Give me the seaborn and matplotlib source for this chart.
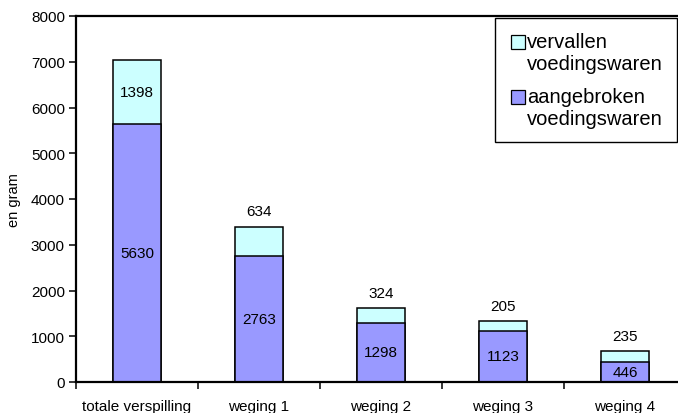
import matplotlib
matplotlib.use("Agg")
import matplotlib.pyplot as plt
from matplotlib.patches import Patch, Rectangle
from matplotlib.legend_handler import HandlerBase
from matplotlib.ticker import FixedLocator
import seaborn as sns
import pandas as pd

categories = ["totale verspilling", "weging 1", "weging 2", "weging 3", "weging 4"]
aangebroken = [5630, 2763, 1298, 1123, 446]
vervallen = [1398, 634, 324, 205, 235]

color_aangebroken = "#9999FF"
color_vervallen = "#CCFFFF"

sns.set_theme(style="white")
plt.rcParams["font.family"] = ["Liberation Sans", "DejaVu Sans"]
for key in ["text.color", "axes.labelcolor", "xtick.color", "ytick.color"]:
    plt.rcParams[key] = "black"

df = pd.DataFrame({
    "categorie": categories,
    "aangebroken": aangebroken,
    "vervallen": vervallen,
})
df["totaal"] = df["aangebroken"] + df["vervallen"]

fig = plt.figure(figsize=(6.78, 4.14), dpi=100)
ax = fig.add_axes([76 / 678, 1 - 383 / 414, 610 / 678, 366 / 414])

bar_kw = dict(width=0.4, edgecolor="black", linewidth=1.1, saturation=1, ax=ax)
sns.barplot(data=df, x="categorie", y="totaal", color=color_vervallen, **bar_kw)
sns.barplot(data=df, x="categorie", y="aangebroken", color=color_aangebroken, **bar_kw)

FS = 11
ax.set_ylim(0, 8000)
ax.set_xlim(-0.5, len(categories) - 0.5)
ax.set_yticks(range(0, 8001, 1000))
ax.tick_params(axis="y", labelsize=FS, length=5, width=1.1, direction="out",
               left=True, pad=3)
ax.tick_params(axis="x", which="major", labelsize=FS, length=0, pad=12)
ax.xaxis.set_minor_locator(FixedLocator([i - 0.5 for i in range(len(categories) + 1)]))
ax.tick_params(axis="x", which="minor", length=5, width=1.1, bottom=True, direction="out")
ax.set_xlabel("")
ax.set_ylabel("en gram", fontsize=10.5, labelpad=7)

for side in ["left", "top", "bottom"]:
    ax.spines[side].set_visible(True)
    ax.spines[side].set_color("black")
    ax.spines[side].set_linewidth(1.6)
ax.spines["right"].set_visible(False)

# value labels: lower segment centred, upper segment centred for the total bar, above the others
for i, (a, v) in enumerate(zip(aangebroken, vervallen)):
    ax.text(i, a / 2, str(a), ha="center", va="center", fontsize=FS)
    if i == 0:
        ax.text(i, a + v / 2, str(v), ha="center", va="center", fontsize=FS)
    else:
        ax.annotate(str(v), xy=(i, a + v), xytext=(0, 11), textcoords="offset points",
                    ha="center", va="center", fontsize=FS)


class FirstLineSquare(HandlerBase):
    """Small square key aligned with the first line of a two-line label."""

    def create_artists(self, legend, orig_handle, xdescent, ydescent,
                       width, height, fontsize, trans):
        size = 0.68 * fontsize
        x = -xdescent + width - size
        y = -ydescent + height / 2 - size / 2 + 0.55 * fontsize
        rect = Rectangle((x, y), size, size, facecolor=orig_handle.get_facecolor(),
                         edgecolor="black", linewidth=0.9, transform=trans)
        return [rect]


handles = [
    Patch(facecolor=color_vervallen, label="vervallen\nvoedingswaren"),
    Patch(facecolor=color_aangebroken, label="aangebroken\nvoedingswaren"),
]
leg = fig.legend(handles=handles, loc="upper left", bbox_to_anchor=(495 / 678, 1 - 19 / 414),
                 bbox_transform=fig.transFigure, fontsize=14.5, frameon=True, fancybox=False,
                 handler_map={Patch: FirstLineSquare()},
                 handlelength=0.78, handleheight=0.7, handletextpad=0.1, labelspacing=0.72,
                 borderpad=0.7, borderaxespad=0)
leg.get_frame().set_edgecolor("black")
leg.get_frame().set_linewidth(1.0)
leg.get_frame().set_facecolor("white")
leg.get_frame().set_alpha(1)
for t in leg.get_texts():
    t.set_linespacing(1.18)

fig.savefig("out.png", dpi=100)
